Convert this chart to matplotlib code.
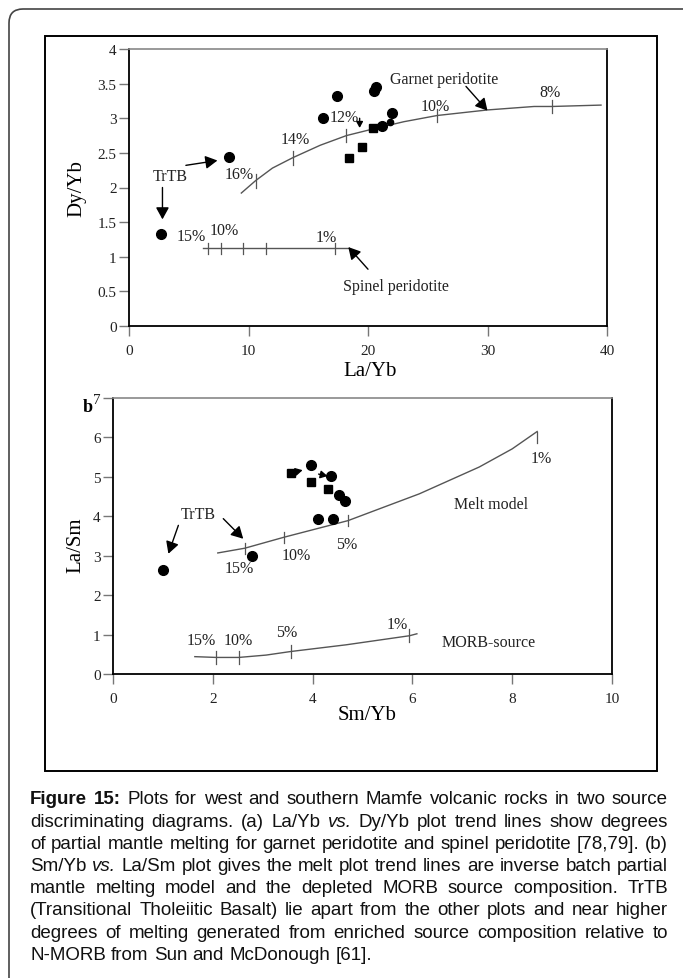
import numpy as np
import matplotlib
matplotlib.use("Agg")
import matplotlib.pyplot as plt
from matplotlib.patches import FancyBboxPatch, Rectangle
from matplotlib.transforms import IdentityTransform

plt.rcParams['font.family'] = 'serif'
plt.rcParams['font.serif'] = ['Liberation Serif', 'DejaVu Serif']

# ---- (a) La/Yb vs Dy/Yb ----
garnet_x = [9.4, 10.6, 12.0, 13.7, 16.0, 18.2, 20.3, 23.0, 25.8, 30.0, 33.9, 35.4, 39.5]
garnet_y = [1.92, 2.10, 2.28, 2.43, 2.61, 2.75, 2.84, 2.95, 3.04, 3.12, 3.17, 3.17, 3.19]
garnet_ticks = [10.6, 13.7, 18.2, 25.8, 35.4]
garnet_pct = ['16%', '14%', '12%', '10%', '8%']

spinel_x = [6.2, 18.3]
spinel_y = [1.12, 1.12]
spinel_ticks = [6.6, 7.7, 9.5, 11.5, 17.2]

circ_a_x = [2.66, 8.4, 16.2, 17.4, 20.5, 20.7, 21.2, 22.0]
circ_a_y = [1.33, 2.44, 3.01, 3.32, 3.40, 3.45, 2.89, 3.07]
small_a_x = [21.8]
small_a_y = [2.94]
sq_a_x = [18.4, 19.5, 20.4]
sq_a_y = [2.42, 2.59, 2.86]

# ---- (b) Sm/Yb vs La/Sm ----
melt_x = [2.1, 2.64, 3.43, 4.71, 5.34, 6.14, 7.34, 8.0, 8.5]
melt_y = [3.07, 3.19, 3.47, 3.89, 4.19, 4.57, 5.25, 5.71, 6.15]
melt_ticks = [2.64, 3.43, 4.71]

morb_x = [1.64, 2.07, 2.52, 3.07, 3.56, 4.67, 5.94, 6.09]
morb_y = [0.44, 0.42, 0.42, 0.48, 0.57, 0.74, 0.97, 1.02]
morb_ticks = [2.07, 2.52, 3.56, 5.94]

circ_b_x = [1.0, 2.79, 3.96, 4.37, 4.53, 4.64, 4.1, 4.41]
circ_b_y = [2.65, 3.0, 5.31, 5.01, 4.55, 4.39, 3.94, 3.92]
sq_b_x = [3.56, 3.97, 4.31]
sq_b_y = [5.1, 4.87, 4.69]

caption = [
    "b:Figure b:15: Plots for west and southern Mamfe volcanic rocks in two source",
    "discriminating diagrams. (a) La/Yb i:vs. Dy/Yb plot trend lines show degrees",
    "of partial mantle melting for garnet peridotite and spinel peridotite [78,79]. (b)",
    "Sm/Yb i:vs. La/Sm plot gives the melt plot trend lines are inverse batch partial",
    "mantle melting model and the depleted MORB source composition. TrTB",
    "(Transitional Tholeiitic Basalt) lie apart from the other plots and near higher",
    "degrees of melting generated from enriched source composition relative to",
    "N-MORB from Sun and McDonough [61].",
]

W, H = 683, 979
fig = plt.figure(figsize=(W / 100, H / 100), dpi=100)


def box(l, t, r, b):
    return [l / W, 1 - b / H, (r - l) / W, (b - t) / H]


def style(ax):
    for s in ['left', 'bottom', 'right']:
        ax.spines[s].set_color('k')
        ax.spines[s].set_linewidth(1.3)
    ax.spines['top'].set_color('#888')
    ax.spines['top'].set_linewidth(1.2)
    ax.tick_params(direction='out', length=7, width=1, color='#777',
                   labelsize=11, labelcolor='#222')
    ax.tick_params(axis='x', pad=6)
    ax.tick_params(axis='y', pad=2)


def arrow(ax, src, dst, scale=12):
    ax.annotate('', xy=dst, xytext=src,
                arrowprops=dict(arrowstyle='-|>,head_length=0.6,head_width=0.33',
                                color='k', lw=1.0, mutation_scale=scale,
                                shrinkA=0, shrinkB=0))


def curve(ax, xs, ys, ticks, half):
    ax.plot(xs, ys, color='#555', lw=1.0)
    for tx in ticks:
        ty = np.interp(tx, xs, ys)
        ax.plot([tx, tx], [ty - half, ty + half], color='#555', lw=0.9)


# top panel
ax1 = fig.add_axes(box(129, 50, 607, 327))
style(ax1)
ax1.set_xlim(0, 40)
ax1.set_ylim(0, 4)
ax1.set_xticks([0, 10, 20, 30, 40])
ax1.set_yticks(np.arange(0, 4.01, 0.5))
ax1.set_yticklabels(['0', '0.5', '1', '1.5', '2', '2.5', '3', '3.5', '4'])

curve(ax1, garnet_x, garnet_y, garnet_ticks, 0.1)
curve(ax1, spinel_x, spinel_y, spinel_ticks, 0.085)
ax1.plot(circ_a_x, circ_a_y, 'o', color='k', ms=7)
ax1.plot(small_a_x, small_a_y, 'o', color='k', ms=4.5)
ax1.plot(sq_a_x, sq_a_y, 's', color='k', ms=6)

label_pos_a = [(9.25, 2.2), (13.9, 2.7), (18.0, 3.02), (25.6, 3.17), (35.2, 3.38)]
for (tx, ty), s in zip(label_pos_a, garnet_pct):
    ax1.text(tx, ty, s, ha='center', va='center', fontsize=11.5, color='#222')
for tx, ty, s in [(5.2, 1.3, '15%'), (8.0, 1.38, '10%'), (16.5, 1.28, '1%'),
                  (26.4, 3.56, 'Garnet peridotite'),
                  (22.3, 0.58, 'Spinel peridotite'), (3.45, 2.17, 'TrTB')]:
    ax1.text(tx, ty, s, ha='center', va='center', fontsize=11.5, color='#222')

arrow(ax1, (4.76, 2.32), (7.4, 2.39))
arrow(ax1, (2.8, 2.0), (2.8, 1.54))
arrow(ax1, (28.2, 3.46), (30.0, 3.11))
arrow(ax1, (20.0, 0.82), (18.35, 1.14))
arrow(ax1, (19.3, 3.0), (19.3, 2.86), scale=6)

ax1.set_xlabel('La/Yb', fontsize=15, va='center')
ax1.xaxis.set_label_coords(0.504, -0.159)
ax1.set_ylabel('Dy/Yb', fontsize=15, va='center')
ax1.yaxis.set_label_coords(-0.11, 0.5)

# bottom panel
ax2 = fig.add_axes(box(113, 399, 612, 675))
style(ax2)
ax2.set_xlim(0, 10)
ax2.set_ylim(0, 7)
ax2.set_xticks([0, 2, 4, 6, 8, 10])
ax2.set_yticks(range(8))

curve(ax2, melt_x, melt_y, melt_ticks, 0.14)
ax2.plot([8.5, 8.5], [6.15, 5.85], color='#555', lw=0.9)
curve(ax2, morb_x, morb_y, morb_ticks, 0.16)
ax2.plot(circ_b_x, circ_b_y, 'o', color='k', ms=7)
ax2.plot(sq_b_x, sq_b_y, 's', color='k', ms=6)

for tx, ty, s in [(2.54, 2.69, '15%'), (3.67, 3.02, '10%'), (4.68, 3.3, '5%'),
                  (8.58, 5.47, '1%'), (7.58, 4.32, 'Melt model'),
                  (1.7, 4.06, 'TrTB'), (1.77, 0.85, '15%'), (2.51, 0.85, '10%'),
                  (3.49, 1.07, '5%'), (5.69, 1.27, '1%'),
                  (7.52, 0.81, 'MORB-source')]:
    ax2.text(tx, ty, s, ha='center', va='center', fontsize=11.5, color='#222')

arrow(ax2, (1.31, 3.77), (1.11, 3.05))
arrow(ax2, (2.21, 3.94), (2.61, 3.43))
arrow(ax2, (3.6, 5.11), (3.8, 5.17), scale=7)
arrow(ax2, (4.12, 5.07), (4.3, 5.02), scale=7)

ax2.set_xlabel('Sm/Yb', fontsize=15, va='center')
ax2.xaxis.set_label_coords(0.51, -0.145)
ax2.set_ylabel('La/Sm', fontsize=15, va='center')
ax2.yaxis.set_label_coords(-0.075, 0.47)

fig.text(88 / W, 1 - 407 / H, 'b', fontsize=13, weight='bold',
         ha='center', va='center')

# frames
outer = FancyBboxPatch((9, -40), 720, H - 10 + 40,
                       boxstyle='round,pad=0,rounding_size=14',
                       transform=IdentityTransform(), fill=False,
                       ec='#444', lw=1.2)
fig.add_artist(outer)
inner = Rectangle((45, H - 772), 612, 772 - 37, transform=IdentityTransform(),
                  fill=False, ec='k', lw=1.4)
fig.add_artist(inner)

# justified caption: size the font so the widest line just fits
renderer = fig.canvas.get_renderer()
left, right = 30, 668
y0, step = 800, 22.2


def make_words(line, y, size):
    out = []
    for w in line.split(' '):
        kw = dict(family='Liberation Sans', fontsize=size, color='#111',
                  va='center', ha='left')
        if w.startswith('b:'):
            w, kw['weight'] = w[2:], 'bold'
        elif w.startswith('i:'):
            w, kw['style'] = w[2:], 'italic'
        out.append(fig.text(0, y, w, **kw))
    return out


base = 11.0
widest = 0
for line in caption[:-1]:
    probe = make_words(line, 0, base)
    ws = [t.get_window_extent(renderer).width for t in probe]
    natural = sum(ws) + 0.278 * base * 100 / 72 * (len(ws) - 1)
    widest = max(widest, natural)
    for t in probe:
        t.remove()
size = min(base * (right - left) / widest * 0.995, 14)

for i, line in enumerate(caption):
    texts = make_words(line, 1 - (y0 + i * step) / H, size)
    widths = [t.get_window_extent(renderer).width for t in texts]
    if i < len(caption) - 1:
        gap = (right - left - sum(widths)) / (len(texts) - 1)
    else:
        gap = 0.278 * size * 100 / 72
    x = left
    for t, wd in zip(texts, widths):
        t.set_x(x / W)
        x += wd + gap

fig.savefig('out.png', dpi=100)
